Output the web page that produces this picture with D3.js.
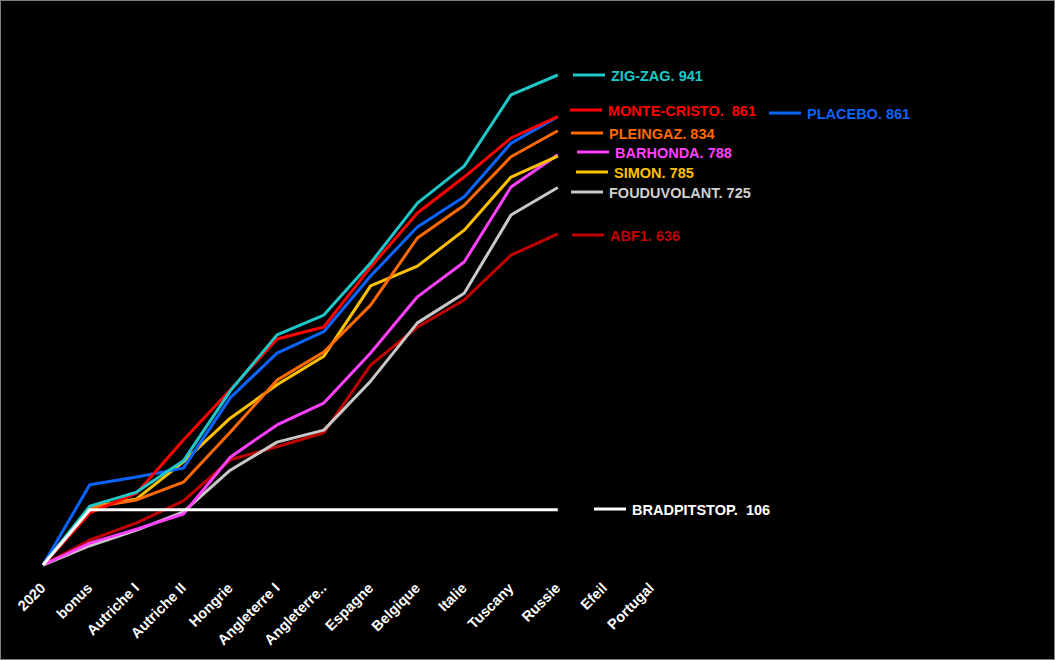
<!DOCTYPE html>
<html><head><meta charset="utf-8">
<script src="https://cdn.jsdelivr.net/npm/d3@7"></script>
<style>
html,body{margin:0;padding:0;background:#000;}
svg{display:block;}
text{font-family:"Liberation Sans",Arial,sans-serif;font-weight:bold;white-space:pre;}
</style></head>
<body>
<script>
const categories = ["2020","bonus","Autriche I","Autriche II","Hongrie","Angleterre I","Angleterre..","Espagne","Belgique","Italie","Tuscany","Russie","Efeil","Portugal"];

const zigzag      = [0,113,140,200,334,442,480,580,695,766,903,941];
const montecristo = [0,100,138,240,336,434,457,572,676,745,820,861];
const placebo     = [0,154,169,186,321,407,448,555,649,707,810,861];
const pleingaz    = [0,110,125,159,255,355,409,499,628,691,784,834];
const simon       = [0,111,127,198,282,346,401,536,574,643,745,785];
const barhonda    = [0,42,69,98,207,269,311,407,515,582,726,788];
const fouduvolant = [0,37,67,102,182,236,259,353,465,522,672,725];
const abf1        = [0,48,81,123,202,227,254,384,457,509,595,636];
const bradpitstop = [0,106,106,106,106,106,106,106,106,106,106,106];

const seriesNames  = ["ABF1","FOUDUVOLANT","BARHONDA","SIMON","PLEINGAZ","PLACEBO","MONTE-CRISTO","ZIG-ZAG","BRADPITSTOP"];
const seriesValues = [abf1,fouduvolant,barhonda,simon,pleingaz,placebo,montecristo,zigzag,bradpitstop];
const seriesLabels = ["ABF1. 636","FOUDUVOLANT. 725","BARHONDA. 788","SIMON. 785","PLEINGAZ. 834","PLACEBO. 861","MONTE-CRISTO.  861","ZIG-ZAG. 941","BRADPITSTOP.  106"];
const seriesColors = ["#c00000","#c8c8c8","#ff40ff","#ffc000","#ff6a00","#0a64ff","#ff0000","#1ec8c8","#ffffff"];
const labelColors  = ["#c00000","#d0d0d0","#ff40ff","#ffc000","#ff6a00","#0a64ff","#ff0000","#1ec8c8","#ffffff"];

const W = 1055, H = 660;
const svg = d3.select("body").append("svg").attr("width", W).attr("height", H);
svg.append("rect").attr("x",0.5).attr("y",0.5).attr("width",W-1).attr("height",H-1)
  .attr("fill","#000").attr("stroke","#7f7f7f");

const x = d3.scalePoint().domain(categories).range([43, 43 + 13*46.8]);
const y = d3.scaleLinear().domain([0, 941]).range([565, 75]);

// x axis labels
const xAxis = d3.axisBottom(x).tickSize(0).tickPadding(0);
const gx = svg.append("g").attr("transform","translate(0,565)").call(xAxis);
gx.select(".domain").remove();
gx.selectAll("text")
  .attr("fill","#fff").attr("font-size","14.5px")
  .attr("font-family","Liberation Sans, Arial, sans-serif").attr("font-weight","bold")
  .attr("text-anchor","end").attr("dy",null).attr("y",null)
  .attr("transform","translate(3,24) rotate(-45)");

const line = d3.line().x((d,i)=>x(categories[i])).y(d=>y(d));

seriesValues.forEach((vals,k)=>{
  svg.append("path").datum(vals).attr("d",line)
    .attr("fill","none").attr("stroke",seriesColors[k]).attr("stroke-width",3)
    .attr("stroke-linejoin","round");
});

// legend layout (pixel positions of each legend entry)
const legX = [572,571,577,576,571,769,570,573,594];
const legY = [235,192,152,172,133,113,110,75,509];
seriesNames.forEach((n,k)=>{
  const g = svg.append("g").attr("transform",`translate(${legX[k]},${legY[k]})`);
  g.append("line").attr("x1",0).attr("x2",32).attr("y1",0).attr("y2",0)
    .attr("stroke",seriesColors[k]).attr("stroke-width",3);
  g.append("text").attr("x",38).attr("y",6).attr("font-size","14.5px")
    .attr("fill",labelColors[k]).text(seriesLabels[k]);
});
</script>
</body></html>
